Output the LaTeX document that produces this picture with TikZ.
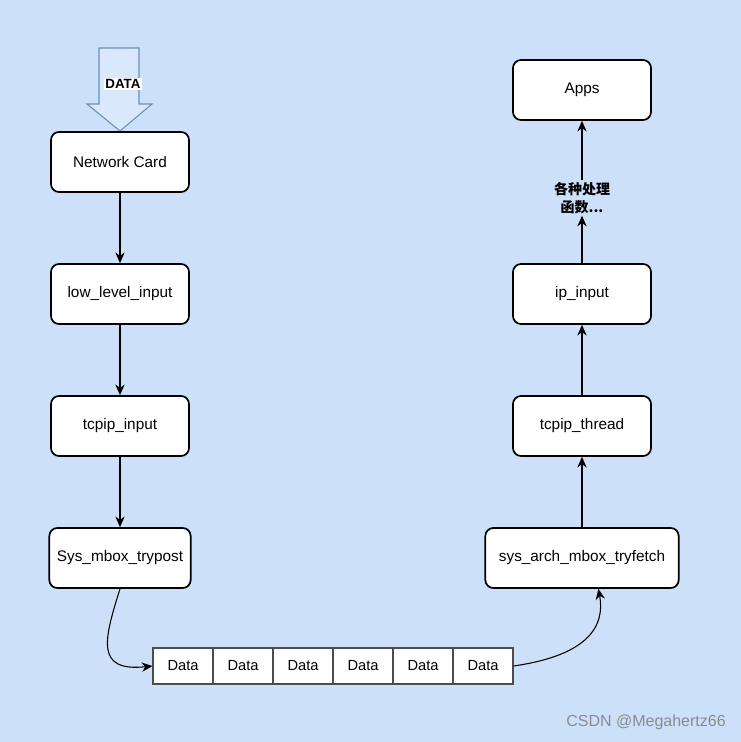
\documentclass[tikz,border=0pt]{standalone}
\usepackage{fontspec}
\setmainfont{Liberation Sans}
\newfontfamily\cjk{Noto Sans CJK SC}
\usepackage{tikz}
\usetikzlibrary{arrows.meta,positioning}
\definecolor{canvas}{HTML}{CCE0FA}
\definecolor{dataline}{HTML}{6C8EBF}
\definecolor{datafill}{HTML}{DAE8FC}

\begin{document}
\begin{tikzpicture}[x=0.75pt,y=-0.75pt,
        stage/.style={draw=black, line width=1.3pt, fill=white, rounded corners=6pt,
            minimum width=103.5pt, minimum height=45pt, font=\fontsize{11.5}{13}\selectfont},
        cell/.style={draw=black!70, line width=0.8pt, fill=white,
            minimum width=45pt, minimum height=27pt, inner sep=0pt, font=\fontsize{11}{13}\selectfont},
        flow/.style={-{Stealth[length=8pt,width=7pt]}, line width=0.8pt}]
    \fill[canvas] (0,0) rectangle (741,742);
    \useasboundingbox (0,0) rectangle (741,742);

    % incoming data
    \draw[dataline, fill=datafill, line width=0.8pt]
        (99,48)--(139,48)--(139,104)--(152,104)--(120,131)--(87,104)--(99,104)--cycle;
    \node[fill=white, inner sep=1pt, font=\bfseries\fontsize{10}{12}\selectfont] (data) at (123,84) {DATA};

    % left column
    \node[stage] (card) at (120,162) {Network Card};
    \node[stage] (low) at (120,294) {low\_level\_input};
    \node[stage] (tin) at (120,426) {tcpip\_input};
    \node[stage, minimum width=106pt] (post) at (120,558) {Sys\_mbox\_trypost};

    % right column
    \node[stage] (apps) at (582,90) {Apps};
    \node[stage] (ipin) at (582,294) {ip\_input};
    \node[stage] (thread) at (582,426) {tcpip\_thread};
    \node[stage, minimum width=145pt] (fetch) at (582,558) {sys\_arch\_mbox\_tryfetch};
    \node[align=center, inner sep=1pt, font=\cjk\bfseries\fontsize{10.5}{14}\selectfont] (funcs) at (582,198) {各种处理\\函数...};

    % mailbox
    \foreach \i in {1,...,6}{
        \node[cell] (d\i) at (123+60*\i,666) {Data};
    }

    \draw[flow] (card) -- (low);
    \draw[flow] (low) -- (tin);
    \draw[flow] (tin) -- (post);
    \draw[flow] (post.south) .. controls (104,640) and (95,672) .. (d1.west);
    \draw[flow] (d6.east) .. controls (590,655) and (605,625) .. (fetch.-62);
    \draw[flow] (fetch) -- (thread);
    \draw[flow] (thread) -- (ipin);
    \draw[flow] (ipin) -- (funcs);
    \draw[flow] (funcs) -- (apps);

    \node[text=black!45, font=\fontsize{12}{14}\selectfont] (mark) at (646,722) {CSDN @Megahertz66};
\end{tikzpicture}
\end{document}
